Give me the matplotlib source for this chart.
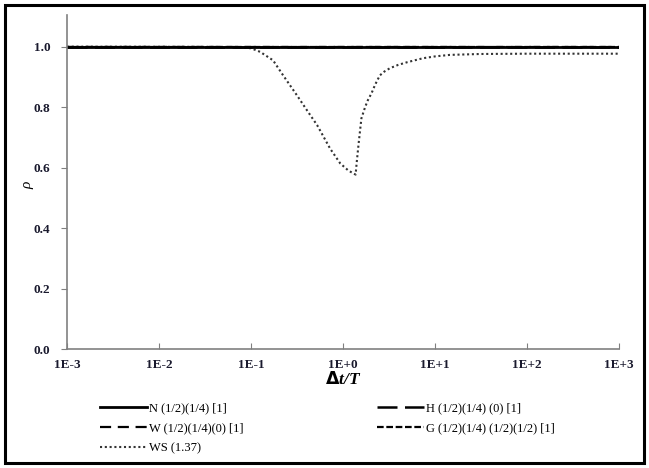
import numpy as np
import matplotlib
matplotlib.use("Agg")
import matplotlib.pyplot as plt
from matplotlib.patches import Rectangle

# time ratio range and the flat curves (all sit at rho = 1)
t_flat = [1e-3, 1e3]
rho_n = [1.0, 1.0]
rho_h = [1.0, 1.0]
rho_w = [1.0, 1.0]
rho_g = [1.0, 1.0]

# WS curve, log10(dt/T) and rho
ws_logt = [-3.0, -2.0, -1.2, -1.0, -0.9, -0.76, -0.65, -0.5, -0.39, -0.28,
           -0.14, -0.03, 0.06, 0.137, 0.15, 0.17, 0.20, 0.24, 0.27, 0.31,
           0.35, 0.40, 0.45, 0.51, 0.60, 0.70, 0.87, 1.0, 1.16, 1.49, 2.0,
           2.5, 3.0]
ws_rho = [1.0, 1.0, 0.999, 0.995, 0.983, 0.955, 0.905, 0.839, 0.789, 0.740,
          0.663, 0.614, 0.590, 0.577, 0.62, 0.68, 0.763, 0.80, 0.823, 0.846,
          0.875, 0.905, 0.918, 0.929, 0.940, 0.949, 0.962, 0.968, 0.973,
          0.976, 0.977, 0.977, 0.977]

tick_exp = [-3, -2, -1, 0, 1, 2, 3]
tick_labels = ["1E-3", "1E-2", "1E-1", "1E+0", "1E+1", "1E+2", "1E+3"]
y_ticks = [0.0, 0.2, 0.4, 0.6, 0.8, 1.0]

serif = ["Liberation Serif", "DejaVu Serif"]
plt.rcParams["font.family"] = serif

fig = plt.figure(figsize=(6.49, 4.68), dpi=100)
ax = fig.add_axes([67 / 649, 1 - 349 / 468, 552 / 649, 334 / 468])

ws_t = 10.0 ** np.array(ws_logt)
ln_ws, = ax.plot(ws_t, ws_rho, color="#333333", lw=1.5,
                 linestyle=(0, (1, 1.3)), label="WS (1.37)")
ln_g, = ax.plot(t_flat, rho_g, color="black", lw=1.6,
                linestyle=(0, (3, 1.2)), label="G (1/2)(1/4) (1/2)(1/2) [1]")
ln_w, = ax.plot(t_flat, rho_w, color="black", lw=1.6,
                linestyle=(0, (5, 3)), label="W (1/2)(1/4)(0) [1]")
ln_h, = ax.plot(t_flat, rho_h, color="black", lw=1.8,
                linestyle=(0, (8, 3)), label="H (1/2)(1/4) (0) [1]")
ln_n, = ax.plot(t_flat, rho_n, color="black", lw=2.0,
                label="N (1/2)(1/4) [1]")

ax.set_xscale("log")
ax.set_xlim(1e-3, 1e3)
ax.set_ylim(0, 1.105)
ax.set_xticks([10.0 ** e for e in tick_exp])
ax.set_xticklabels(tick_labels)
ax.minorticks_off()
ax.set_yticks(y_ticks)
ax.set_yticklabels([f"{v:.1f}" for v in y_ticks])

for s in ["top", "right"]:
    ax.spines[s].set_visible(False)
for s in ["left", "bottom"]:
    ax.spines[s].set_color("#808080")
    ax.spines[s].set_linewidth(1.2)

ax.tick_params(axis="x", direction="in", length=4, color="#808080",
               labelsize=9.5, pad=7)
ax.tick_params(axis="y", direction="out", length=4, color="#808080",
               labelsize=9.5, pad=8)
for lab in ax.get_xticklabels() + ax.get_yticklabels():
    lab.set_fontweight("bold")
    lab.set_color("#1a1a2e")

ax.set_xlabel(r"$\mathbf{\Delta}$" + "t/T", fontsize=12.5, fontweight="bold",
              style="italic", labelpad=0)
ax.set_ylabel("ρ", fontsize=11, style="italic")
ax.yaxis.set_label_coords(-33 / 552, 0.49)

handles = [ln_n, ln_w, ln_ws, ln_h, ln_g]
fig.legend(handles=handles, labels=[h.get_label() for h in handles],
           loc="upper left", bbox_to_anchor=(89 / 649, 1 - 391 / 468),
           ncol=2, frameon=False, fontsize=9, handlelength=3.7,
           handletextpad=0.2, columnspacing=10.7, labelspacing=0.65)

# black frame around the whole figure
fig.patches.append(Rectangle((5 / 649, 5 / 468), 639 / 649, 458 / 468,
                             transform=fig.transFigure, fill=False,
                             edgecolor="black", linewidth=2.2))

fig.savefig("out.png", dpi=100)
